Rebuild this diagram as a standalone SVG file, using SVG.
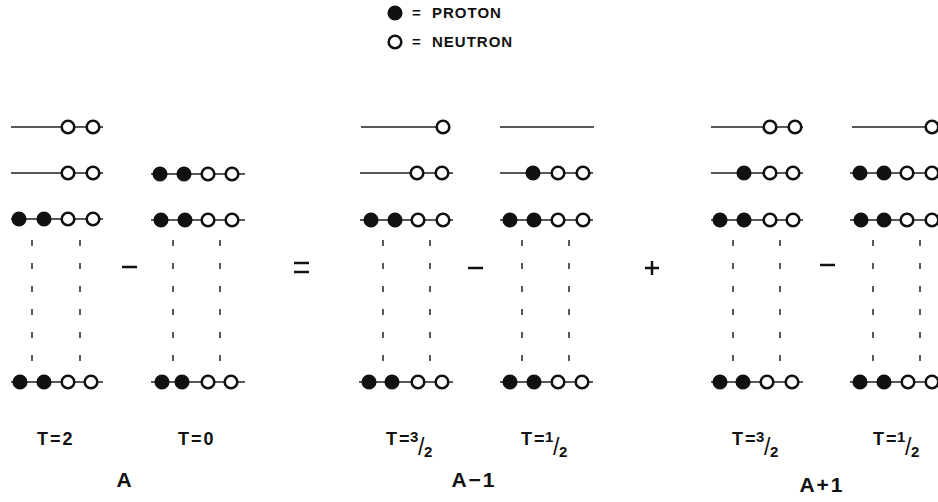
<svg xmlns="http://www.w3.org/2000/svg" width="938" height="502" viewBox="0 0 938 502">
<style>
.ln{stroke:#222;stroke-width:1.5;fill:none}
.dash{stroke:#222;stroke-width:1.5;stroke-dasharray:6 17;fill:none}
.pr{fill:#111;stroke:#111;stroke-width:2.5}
.ne{fill:#fff;stroke:#111;stroke-width:2.6}
.op{stroke:#111;stroke-width:2.5;fill:none}
text{font-family:"Liberation Sans",Arial,sans-serif;font-weight:bold;fill:#111}
.lab{font-size:18px;letter-spacing:2px}
.big{font-size:21px;text-anchor:middle;letter-spacing:2px}
.leg{font-size:15px;letter-spacing:1px}
.fr{font-size:15px;letter-spacing:0}
.sl{font-size:23px;letter-spacing:0;font-weight:normal}
</style>
<defs>
<circle id="p" r="6.3" class="pr"/>
<circle id="n" r="6.3" class="ne"/>
</defs>
<rect width="938" height="502" fill="#fff"/>

<g id="legend">
<use href="#p" x="395" y="13"/>
<text class="leg"><tspan x="412" y="18">=</tspan><tspan x="432" y="18">PROTON</tspan></text>
<use href="#n" x="395" y="42"/>
<text class="leg"><tspan x="412" y="47">=</tspan><tspan x="432" y="47">NEUTRON</tspan></text>
</g>

<g id="connectors">
<line class="ln" x1="11" y1="127" x2="103" y2="127"/>
<line class="ln" x1="11" y1="173" x2="103" y2="173"/>
<line class="ln" x1="11" y1="219" x2="103" y2="219"/>
<line class="ln" x1="11" y1="382" x2="103" y2="382"/>
<line class="dash" x1="32" y1="240" x2="32" y2="364"/>
<line class="dash" x1="80" y1="240" x2="80" y2="364"/>
<line class="ln" x1="151" y1="174" x2="245" y2="174"/>
<line class="ln" x1="151" y1="220" x2="245" y2="220"/>
<line class="ln" x1="151" y1="382" x2="245" y2="382"/>
<line class="dash" x1="173" y1="240" x2="173" y2="364"/>
<line class="dash" x1="220" y1="240" x2="220" y2="364"/>
<line class="ln" x1="361" y1="127" x2="443" y2="127"/>
<line class="ln" x1="360" y1="173" x2="453" y2="173"/>
<line class="ln" x1="360" y1="220" x2="453" y2="220"/>
<line class="ln" x1="359" y1="382" x2="453" y2="382"/>
<line class="dash" x1="383" y1="240" x2="383" y2="364"/>
<line class="dash" x1="430" y1="240" x2="430" y2="364"/>
<line class="ln" x1="500" y1="127" x2="594" y2="127"/>
<line class="ln" x1="500" y1="173" x2="593" y2="173"/>
<line class="ln" x1="500" y1="220" x2="593" y2="220"/>
<line class="ln" x1="500" y1="382" x2="593" y2="382"/>
<line class="dash" x1="522" y1="240" x2="522" y2="364"/>
<line class="dash" x1="569" y1="240" x2="569" y2="364"/>
<line class="ln" x1="711" y1="127" x2="803" y2="127"/>
<line class="ln" x1="711" y1="173" x2="803" y2="173"/>
<line class="ln" x1="711" y1="220" x2="803" y2="220"/>
<line class="ln" x1="711" y1="382" x2="803" y2="382"/>
<line class="dash" x1="733" y1="240" x2="733" y2="364"/>
<line class="dash" x1="780" y1="240" x2="780" y2="364"/>
<line class="ln" x1="852" y1="127" x2="938" y2="127"/>
<line class="ln" x1="850" y1="173" x2="938" y2="173"/>
<line class="ln" x1="850" y1="220" x2="938" y2="220"/>
<line class="ln" x1="850" y1="382" x2="938" y2="382"/>
<line class="dash" x1="873" y1="240" x2="873" y2="364"/>
<line class="dash" x1="920" y1="240" x2="920" y2="364"/>
</g>

<g id="d1">
<use href="#n" x="68" y="127"/><use href="#n" x="93" y="127"/>
<use href="#n" x="68" y="173"/><use href="#n" x="93" y="173"/>
<use href="#p" x="19" y="219"/><use href="#p" x="44" y="219"/><use href="#n" x="68" y="219"/><use href="#n" x="93" y="219"/>
<use href="#p" x="20" y="382"/><use href="#p" x="44" y="382"/><use href="#n" x="68" y="382"/><use href="#n" x="91" y="382"/>
<text x="37" y="445" class="lab">T=2</text>
</g>

<g id="d2">
<use href="#p" x="160" y="174"/><use href="#p" x="184" y="174"/><use href="#n" x="208" y="174"/><use href="#n" x="232" y="174"/>
<use href="#p" x="161" y="220"/><use href="#p" x="185" y="220"/><use href="#n" x="208" y="220"/><use href="#n" x="232" y="220"/>
<use href="#p" x="162" y="382"/><use href="#p" x="182" y="382"/><use href="#n" x="208" y="382"/><use href="#n" x="231" y="382"/>
<text x="178" y="445" class="lab">T=0</text>
</g>

<g id="op1">
<line class="op" x1="122" y1="267" x2="137" y2="267"/>
<line class="op" x1="294" y1="263" x2="309" y2="263"/>
<line class="op" x1="294" y1="272" x2="309" y2="272"/>
</g>

<g id="labA"><text x="125" y="487" class="big">A</text></g>

<g id="d3">
<use href="#n" x="443" y="127"/>
<use href="#n" x="417" y="173"/><use href="#n" x="442" y="173"/>
<use href="#p" x="371" y="220"/><use href="#p" x="395" y="220"/><use href="#n" x="418" y="220"/><use href="#n" x="443" y="220"/>
<use href="#p" x="369" y="382"/><use href="#p" x="392" y="382"/><use href="#n" x="418" y="382"/><use href="#n" x="442" y="382"/>
<text class="lab"><tspan x="386" y="445">T=</tspan><tspan class="fr" x="410" y="442">3</tspan><tspan class="sl" x="418" y="455">/</tspan><tspan class="fr" x="424" y="457">2</tspan></text>
</g>

<g id="op2"><line class="op" x1="468" y1="268" x2="483" y2="268"/></g>

<g id="d4">
<use href="#p" x="533" y="173"/><use href="#n" x="558" y="173"/><use href="#n" x="583" y="173"/>
<use href="#p" x="510" y="220"/><use href="#p" x="534" y="220"/><use href="#n" x="558" y="220"/><use href="#n" x="583" y="220"/>
<use href="#p" x="510" y="382"/><use href="#p" x="534" y="382"/><use href="#n" x="558" y="382"/><use href="#n" x="582" y="382"/>
<text class="lab"><tspan x="521" y="445">T=</tspan><tspan class="fr" x="545" y="442">1</tspan><tspan class="sl" x="553" y="455">/</tspan><tspan class="fr" x="559" y="457">2</tspan></text>
</g>

<g id="labA1"><text x="474" y="487" class="big">A−1</text></g>

<g id="op3">
<line class="op" x1="645" y1="268" x2="659" y2="268"/>
<line class="op" x1="652" y1="261" x2="652" y2="275"/>
<line class="op" x1="820" y1="265" x2="835" y2="265"/>
</g>

<g id="d5">
<use href="#n" x="770" y="127"/><use href="#n" x="795" y="127"/>
<use href="#p" x="744" y="173"/><use href="#n" x="770" y="173"/><use href="#n" x="793" y="173"/>
<use href="#p" x="720" y="220"/><use href="#p" x="744" y="220"/><use href="#n" x="770" y="220"/><use href="#n" x="793" y="220"/>
<use href="#p" x="720" y="382"/><use href="#p" x="743" y="382"/><use href="#n" x="767" y="382"/><use href="#n" x="792" y="382"/>
<text class="lab"><tspan x="732" y="445">T=</tspan><tspan class="fr" x="756" y="442">3</tspan><tspan class="sl" x="764" y="455">/</tspan><tspan class="fr" x="770" y="457">2</tspan></text>
</g>

<g id="d6">
<use href="#n" x="932" y="127"/>
<use href="#p" x="860" y="173"/><use href="#p" x="884" y="173"/><use href="#n" x="907" y="173"/><use href="#n" x="932" y="173"/>
<use href="#p" x="861" y="220"/><use href="#p" x="884" y="220"/><use href="#n" x="907" y="220"/><use href="#n" x="932" y="220"/>
<use href="#p" x="860" y="382"/><use href="#p" x="884" y="382"/><use href="#n" x="908" y="382"/><use href="#n" x="932" y="382"/>
<text class="lab"><tspan x="873" y="445">T=</tspan><tspan class="fr" x="897" y="442">1</tspan><tspan class="sl" x="905" y="455">/</tspan><tspan class="fr" x="911" y="457">2</tspan></text>
</g>

<g id="labA2"><text x="822" y="492" class="big">A+1</text></g>
</svg>
